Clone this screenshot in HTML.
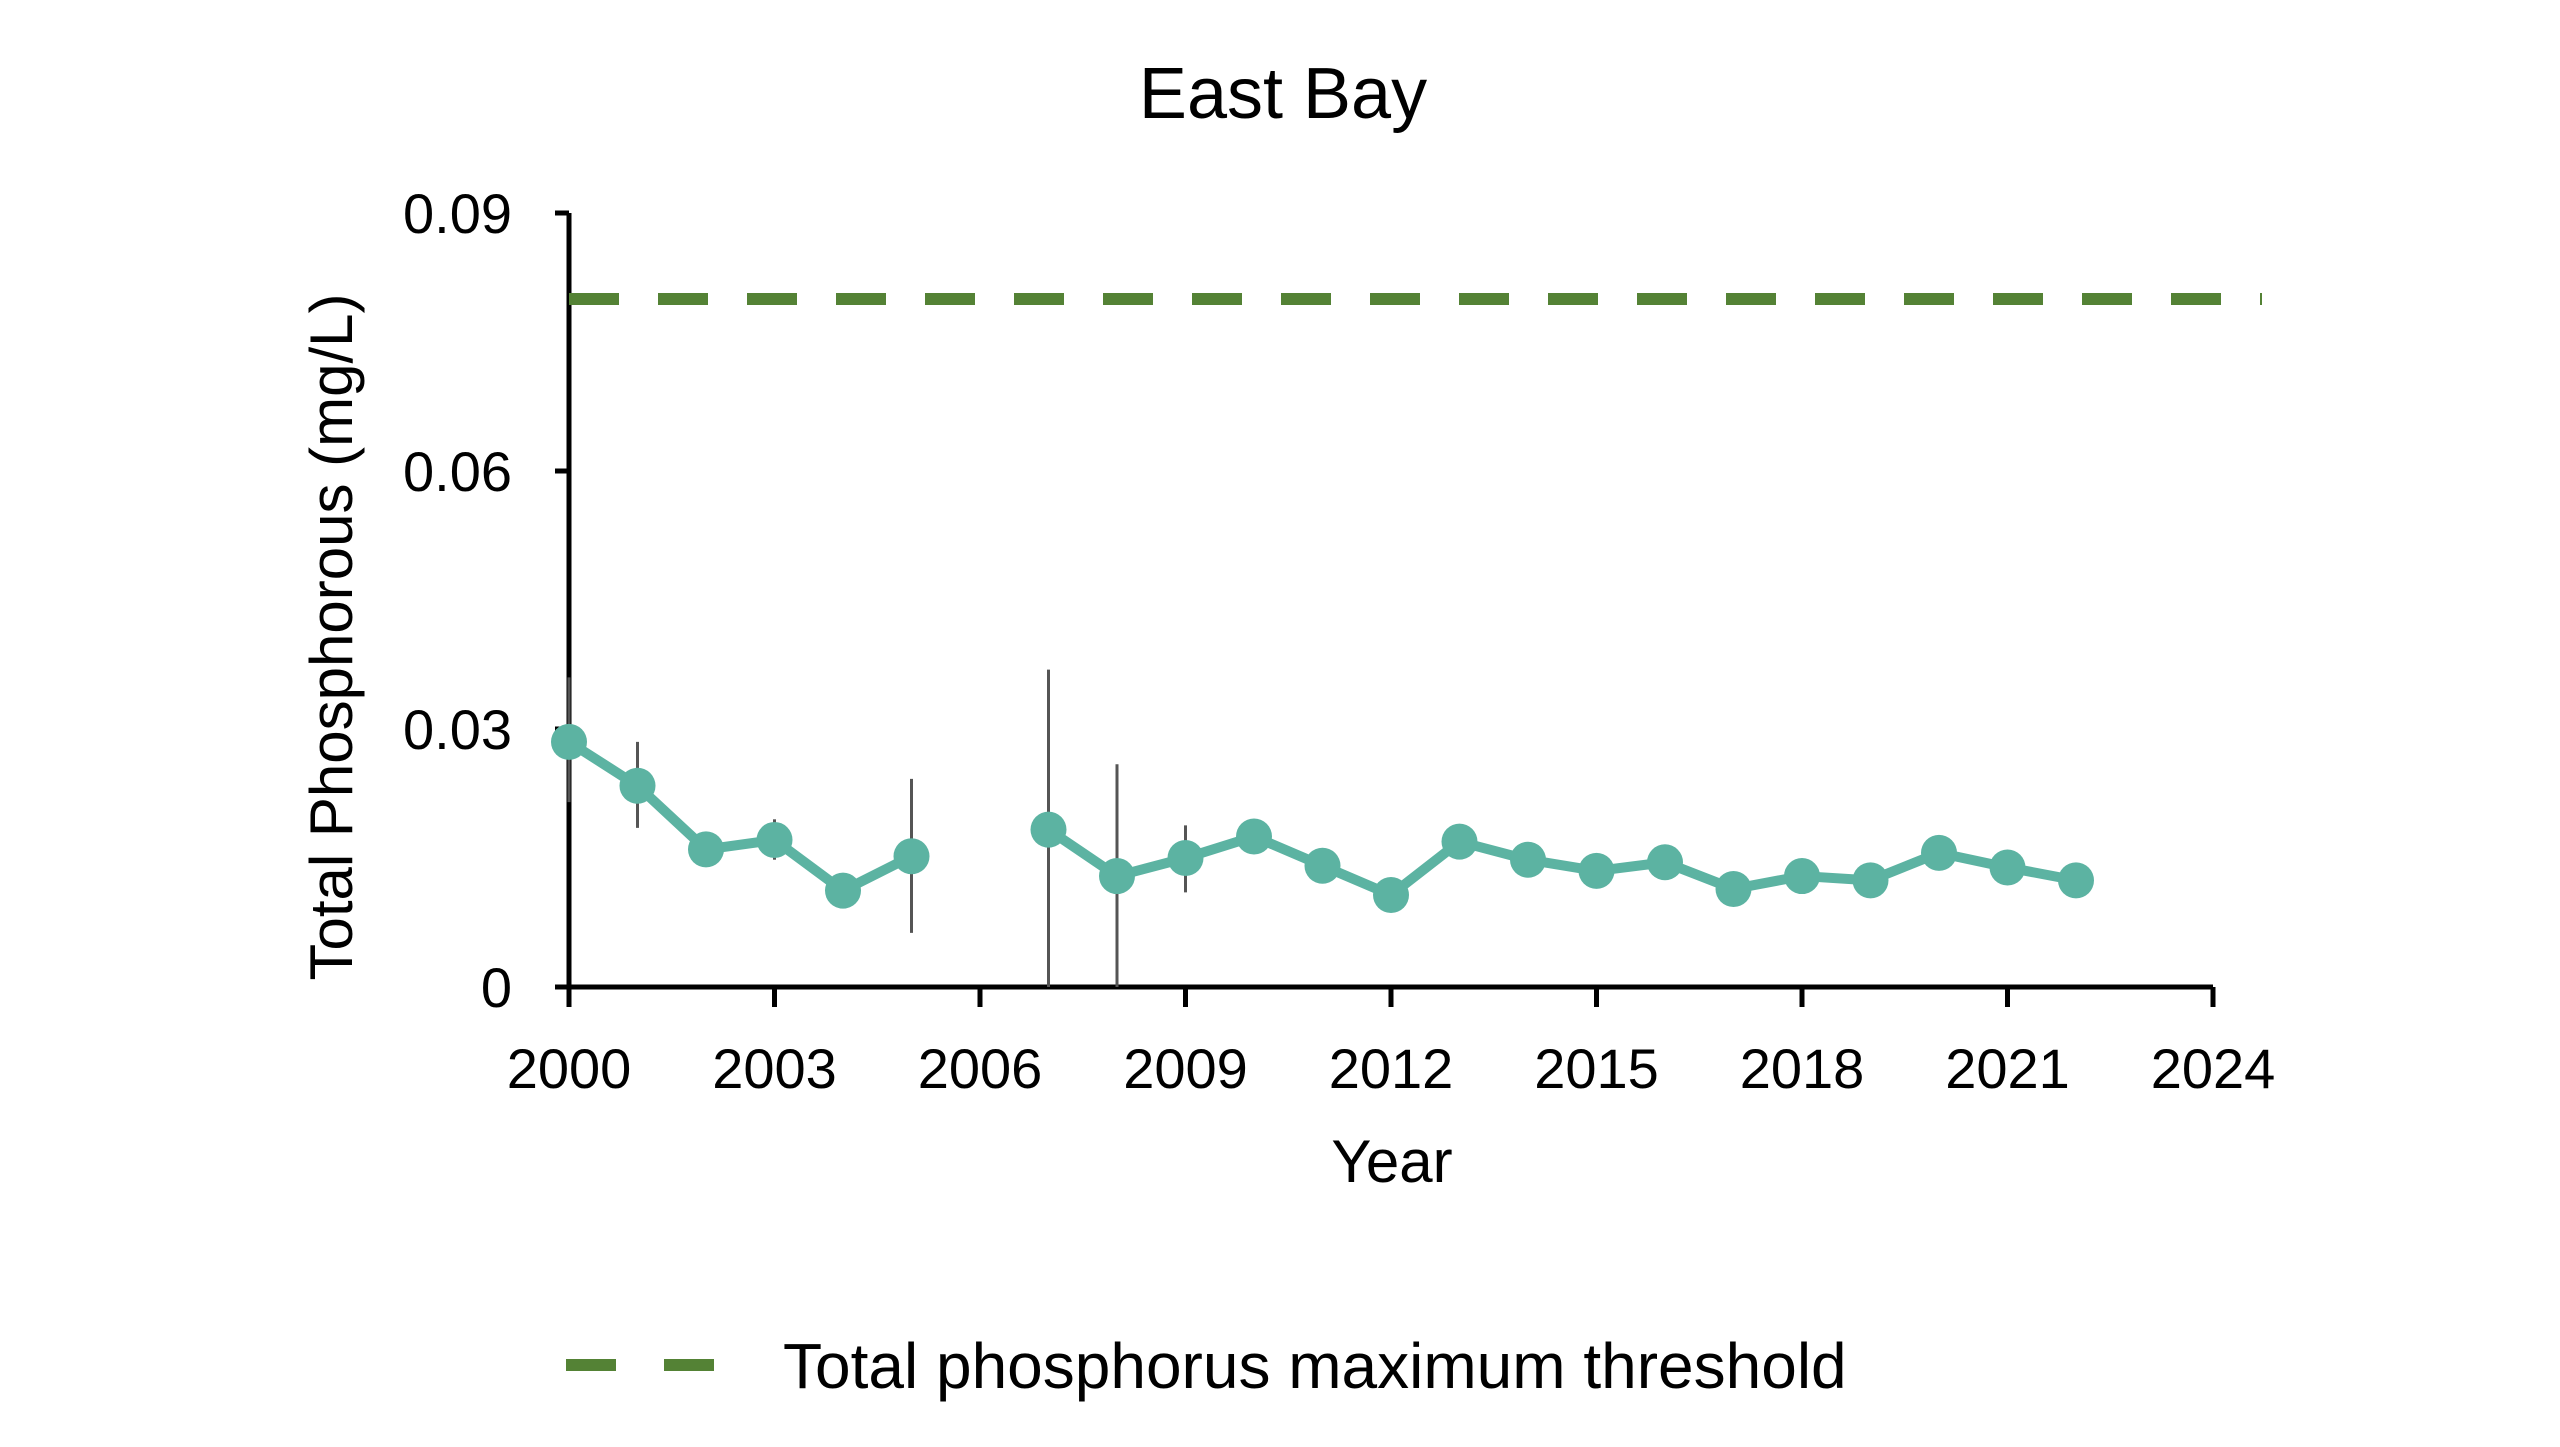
<!DOCTYPE html>
<html><head><meta charset="utf-8"><style>
html,body{margin:0;padding:0;background:#fff;}
svg{display:block;font-family:"Liberation Sans",Arial,sans-serif;}
</style></head><body>
<svg id="chart" width="2560" height="1447" viewBox="0 0 2560 1447">
<text x="1283" y="118" font-size="72" text-anchor="middle">East Bay</text>
<g id="plot"></g>
<text transform="translate(352,637) rotate(-90)" font-size="60" text-anchor="middle">Total Phosphorous (mg/L)</text>
<text x="1392" y="1182" font-size="60" text-anchor="middle">Year</text>
<g>
<line x1="566" y1="1365" x2="714" y2="1365" stroke="#548235" stroke-width="12" stroke-dasharray="50,48"/>
<text x="783" y="1388" font-size="64">Total phosphorus maximum threshold</text>
</g>
</svg>
<script>
const years=[2000,2001,2002,2003,2004,2005,2007,2008,2009,2010,2011,2012,2013,2014,2015,2016,2017,2018,2019,2020,2021,2022];
const values=[0.0285,0.0234,0.016,0.0171,0.0112,0.0152,0.0183,0.0129,0.015,0.0175,0.0141,0.0107,0.0169,0.0148,0.0135,0.0145,0.0114,0.0129,0.0124,0.0156,0.0139,0.0124];
const errHigh=[0.036,0.0285,0.016,0.0195,0.0112,0.0242,0.0369,0.0259,0.0188,0.0175,0.0141,0.0107,0.0169,0.0148,0.0135,0.0145,0.0114,0.0129,0.0124,0.0156,0.0139,0.0124];
const errLow=[0.0215,0.0185,0.016,0.0148,0.0112,0.0063,0,0,0.011,0.0175,0.0141,0.0107,0.0169,0.0148,0.0135,0.0145,0.0114,0.0129,0.0124,0.0156,0.0139,0.0124];
const threshold=0.08;
const yTicks=[0,0.03,0.06,0.09];
const yTickLabels=["0","0.03","0.06","0.09"];
const xTicks=[2000,2003,2006,2009,2012,2015,2018,2021,2024];
const NS="http://www.w3.org/2000/svg";
const X0=569,X1=2213,Y0=987,Y1=213;
const xs=v=>X0+(v-2000)/24*(X1-X0);
const ys=v=>Y0-(v/0.09)*(Y0-Y1);
const g=document.getElementById('plot');
function mk(t,a){const e=document.createElementNS(NS,t);for(const k in a)e.setAttribute(k,a[k]);g.appendChild(e);return e;}
// axes
let e=mk('line',{x1:X0,y1:Y1,x2:X0,y2:Y0,stroke:'#000','stroke-width':5});


e=mk('line',{x1:X0,y1:Y0,x2:X1,y2:Y0,stroke:'#000','stroke-width':5});


yTicks.forEach((v,i)=>{
 let t=mk('line',{x1:X0-14,y1:ys(v),x2:X0,y2:ys(v),stroke:'#000','stroke-width':5});
 
 
 let l=mk('text',{x:512,y:ys(v)+20,'font-size':56,'text-anchor':'end'});
 l.textContent=yTickLabels[i];
 
 
});
xTicks.forEach(v=>{
 let t=mk('line',{x1:xs(v),y1:Y0,x2:xs(v),y2:Y0+20,stroke:'#000','stroke-width':5});
 
 
 let l=mk('text',{x:xs(v),y:1088,'font-size':56,'text-anchor':'middle'});
 l.textContent=String(v);
 
 
});
// threshold
e=mk('line',{x1:X0,y1:ys(threshold),x2:2262,y2:ys(threshold),stroke:'#548235','stroke-width':12,'stroke-dasharray':'50,39'});


// error bars
years.forEach((y,i)=>{
 if(errHigh[i]-errLow[i]<0.0005)return;
 let b=mk('line',{x1:xs(y),y1:ys(errHigh[i]),x2:xs(y),y2:ys(errLow[i]),stroke:'#555','stroke-width':3});
 
 
});
// line segments (break at gaps)
let segs=[],cur=[];
years.forEach((y,i)=>{if(i>0&&y-years[i-1]>1){segs.push(cur);cur=[];}cur.push(xs(y)+','+ys(values[i]));});
segs.push(cur);
segs.forEach(s=>{
 let p=mk('polyline',{points:s.join(' '),fill:'none',stroke:'#5cb3a2','stroke-width':10,'stroke-linejoin':'round'});
 
 
});
years.forEach((y,i)=>{
 let c=mk('circle',{cx:xs(y),cy:ys(values[i]),r:18,fill:'#5cb3a2'});
 
 
});
</script>
</body></html>
